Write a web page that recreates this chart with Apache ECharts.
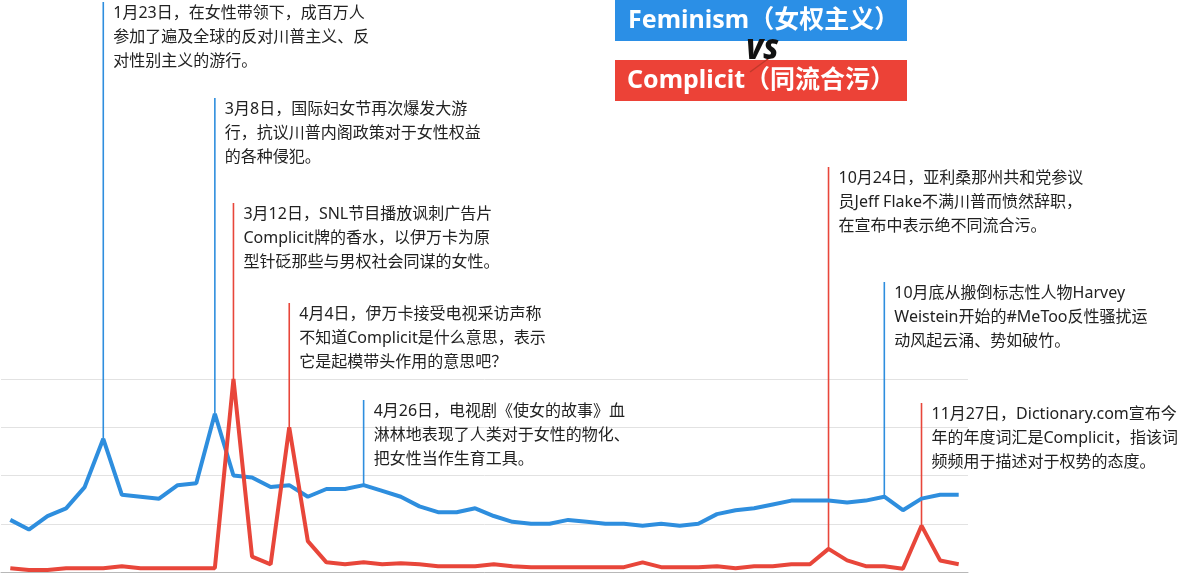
<!DOCTYPE html>
<html>
<head>
<meta charset="utf-8">
<script src="https://cdn.jsdelivr.net/npm/echarts@6/dist/echarts.min.js"></script>
<style>
html,body{margin:0;padding:0;background:#fff;}
#chart{width:1188px;height:575px;}
</style>
</head>
<body>
<div id="chart"></div>
<script>
// Weekly categories (week starting date)
const weeks = [
  '2016-12-18','2016-12-25','2017-01-01','2017-01-08','2017-01-15','2017-01-22','2017-01-29',
  '2017-02-05','2017-02-12','2017-02-19','2017-02-26','2017-03-05','2017-03-12','2017-03-19',
  '2017-03-26','2017-04-02','2017-04-09','2017-04-16','2017-04-23','2017-04-30','2017-05-07',
  '2017-05-14','2017-05-21','2017-05-28','2017-06-04','2017-06-11','2017-06-18','2017-06-25',
  '2017-07-02','2017-07-09','2017-07-16','2017-07-23','2017-07-30','2017-08-06','2017-08-13',
  '2017-08-20','2017-08-27','2017-09-03','2017-09-10','2017-09-17','2017-09-24','2017-10-01',
  '2017-10-08','2017-10-15','2017-10-22','2017-10-29','2017-11-05','2017-11-12','2017-11-19',
  '2017-11-26','2017-12-03','2017-12-10'
];

// Search interest (0-100)
const feminism = [
  27, 22, 29, 33, 44, 69, 40, 39, 38, 45, 46, 82, 50, 49, 44, 45, 39, 43, 43, 45, 42,
  39, 34, 31, 31, 33, 29, 26, 25, 25, 27, 26, 25, 25, 24, 25, 24, 25, 30, 32, 33, 35,
  37, 37, 37, 36, 37, 39, 32, 38, 40, 40
];
const complicit = [
  2, 1, 1, 2, 2, 2, 3, 2, 2, 2, 2, 2, 100, 8, 4, 75, 16, 5, 4, 5, 4,
  4.5, 4, 3, 3, 3, 4, 3, 2.5, 2.5, 2.5, 2.5, 2.5, 2.5, 5, 2.5, 2.5, 2.5, 3, 2, 3, 3,
  4, 4, 12, 6, 3, 3, 1.7, 24, 6, 4
];

const yTicks = [0, 25, 50, 75, 100];

const seriesNames = ['Feminism（女权主义）', 'Complicit（同流合污）'];

// Annotations: week index, series index, text lines
const noteIdx = [5, 11, 12, 15, 19, 44, 47, 49];
const noteSeries = [0, 0, 1, 1, 0, 1, 0, 1];
const noteText = [
  ['1月23日，在女性带领下，成百万人', '参加了遍及全球的反对川普主义、反', '对性别主义的游行。'],
  ['3月8日，国际妇女节再次爆发大游', '行，抗议川普内阁政策对于女性权益', '的各种侵犯。'],
  ['3月12日，SNL节目播放讽刺广告片', 'Complicit牌的香水，以伊万卡为原', '型针砭那些与男权社会同谋的女性。'],
  ['4月4日，伊万卡接受电视采访声称', '不知道Complicit是什么意思，表示', '它是起模带头作用的意思吧？'],
  ['4月26日，电视剧《使女的故事》血', '淋林地表现了人类对于女性的物化、', '把女性当作生育工具。'],
  ['10月24日，亚利桑那州共和党参议', '员Jeff Flake不满川普而愤然辞职，', '在宣布中表示绝不同流合污。'],
  ['10月底从搬倒标志性人物Harvey', 'Weistein开始的#MeToo反性骚扰运', '动风起云涌、势如破竹。'],
  ['11月27日，Dictionary.com宣布今', '年的年度词汇是Complicit，指该词', '频频用于描述对于权势的态度。']
];
// layout: pixel top of each callout
const noteTop = [2, 98, 203, 303, 400, 167, 282, 403];

const colors = ['#2e8ede', '#e8463a'];
const FONT = "'Noto Sans','Noto Sans CJK SC',sans-serif";

const chart = echarts.init(document.getElementById('chart'));
chart.setOption({
  animation: false,
  backgroundColor: '#ffffff',
  grid: {left: 1, right: 220, top: 379, bottom: 3, containLabel: false},
  xAxis: {
    type: 'category',
    data: weeks,
    boundaryGap: true,
    axisLine: {show: true, lineStyle: {color: '#b8b8b8', width: 1}},
    axisTick: {show: false},
    axisLabel: {show: false},
    splitLine: {show: false}
  },
  yAxis: {
    type: 'value',
    min: yTicks[0],
    max: yTicks[yTicks.length - 1],
    interval: yTicks[1] - yTicks[0],
    axisLine: {show: false},
    axisTick: {show: false},
    axisLabel: {show: false},
    splitLine: {show: true, lineStyle: {color: '#e2e2e2', width: 1}}
  },
  series: [
    {name: seriesNames[0], type: 'line', data: feminism, symbol: 'none', clip: false,
     lineStyle: {color: colors[0], width: 4}, z: 3},
    {name: seriesNames[1], type: 'line', data: complicit, symbol: 'none', clip: false,
     lineStyle: {color: colors[1], width: 4}, z: 4}
  ]
});

// Build callouts anchored at data points via the chart's own scales
const seriesData = [feminism, complicit];
const graphics = [];
noteIdx.forEach((idx, k) => {
  const s = noteSeries[k];
  const p = chart.convertToPixel({xAxisIndex: 0, yAxisIndex: 0}, [idx, seriesData[s][idx]]);
  const top = noteTop[k];
  graphics.push({
    type: 'line', z: 1,
    shape: {x1: p[0], y1: top, x2: p[0], y2: p[1]},
    style: {stroke: colors[s], lineWidth: 1.6}
  });
  graphics.push({
    type: 'text', z: 5,
    x: p[0] + 10, y: top - 1,
    style: {
      text: noteText[k].join('\n'),
      fill: '#222', fontSize: 16, fontFamily: FONT, lineHeight: 24,
      align: 'left', verticalAlign: 'top'
    }
  });
});

// Title boxes
graphics.push({type: 'rect', shape: {x: 615, y: 0, width: 292, height: 41}, style: {fill: '#2b8fe6'}, z: 6});
graphics.push({type: 'text', x: 628, y: 20.5, z: 7,
  style: {text: seriesNames[0], fill: '#fff', fontSize: 25, fontWeight: 'bold', fontFamily: FONT,
          align: 'left', verticalAlign: 'middle'}});
graphics.push({type: 'rect', shape: {x: 615, y: 60, width: 292, height: 41}, style: {fill: '#ec4237'}, z: 6});
graphics.push({type: 'text', x: 627, y: 80.5, z: 7,
  style: {text: seriesNames[1], fill: '#fff', fontSize: 25, fontWeight: 'bold', fontFamily: FONT,
          align: 'left', verticalAlign: 'middle'}});
// VS mark
graphics.push({type: 'line', z: 8, shape: {x1: 772, y1: 56, x2: 750, y2: 72},
  style: {stroke: '#c0392b', lineWidth: 1.5}});
graphics.push({type: 'text', x: 762, y: 51, z: 8,
  style: {text: 'VS', fill: '#111', fontSize: 28, fontWeight: 900, fontStyle: 'italic', fontFamily: FONT,
          align: 'center', verticalAlign: 'middle'}});

chart.setOption({graphic: graphics});
</script>
</body>
</html>
